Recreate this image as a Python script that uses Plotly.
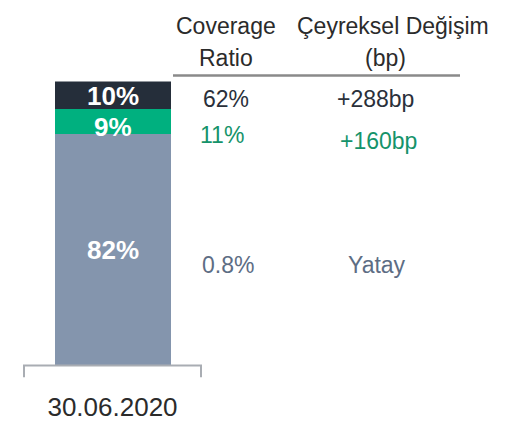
import plotly.graph_objects as go

categories = ["30.06.2020"]
segment_labels = ["82%", "9%", "10%"]
segment_values = [82, 9, 10]
segment_colors = ["#8495ad", "#00b07f", "#252e3a"]
coverage_ratio = ["0.8%", "11%", "62%"]
quarterly_change = ["Yatay", "+160bp", "+288bp"]
row_colors = ["#5d6d84", "#15936a", "#2a303a"]
header_lines_1 = ["Coverage", "Ratio"]
header_lines_2 = ["Çeyreksel Değişim", "(bp)"]

FONT = "Liberation Sans Narrow, Arial Narrow, Liberation Sans, Arial"
OFF = 8  # default page body margin
W, H = 510 - OFF, 422 - OFF

ypx = lambda p: 1 - (p - OFF) / H
xpx = lambda p: (p - OFF) / W

fig = go.Figure()
for v, c in zip(segment_values, segment_colors):
    fig.add_trace(go.Bar(x=categories, y=[v], marker=dict(color=c, line=dict(width=0)),
                         width=116 / 177, hoverinfo="skip", showlegend=False))

annotations = []
cum = 0
label_offsets = [0, -1.8, 0]
for v, lab, off in zip(segment_values, segment_labels, label_offsets):
    mid = cum + v / 2 + off
    cum += v
    annotations.append(dict(x=categories[0], y=mid, xref="x", yref="y", text="<b>" + lab + "</b>",
                            showarrow=False, font=dict(family=FONT, size=26, color="white"),
                            xanchor="center", yanchor="middle"))

hdr_font = dict(family=FONT, size=23, color="#2b2b2b")
for txt, x, y in [(header_lines_1[0], 226, 26), (header_lines_1[1], 226, 58),
                  (header_lines_2[0], 393, 26), (header_lines_2[1], 385, 58)]:
    annotations.append(dict(x=xpx(x), y=ypx(y), xref="paper", yref="paper", text=txt,
                            showarrow=False, font=hdr_font, xanchor="center", yanchor="middle"))

row_y1 = [267, 136, 100]
row_y2 = [267, 142, 100]
row_x1 = [228, 222, 226]
row_x2 = [377, 378, 375]
for cr, qc, col, y1, y2, x1, x2 in zip(coverage_ratio, quarterly_change, row_colors,
                                        row_y1, row_y2, row_x1, row_x2):
    annotations.append(dict(x=xpx(x1), y=ypx(y1), xref="paper", yref="paper", text=cr,
                            showarrow=False, font=dict(family=FONT, size=23, color=col),
                            xanchor="center", yanchor="middle"))
    annotations.append(dict(x=xpx(x2), y=ypx(y2), xref="paper", yref="paper", text=qc,
                            showarrow=False, font=dict(family=FONT, size=23, color=col),
                            xanchor="center", yanchor="middle"))

shapes = [
    dict(type="line", xref="paper", yref="paper", x0=xpx(173), x1=xpx(460),
         y0=ypx(76), y1=ypx(76), line=dict(color="#8a8a8a", width=2.5)),
    dict(type="path", xref="paper", yref="paper",
         path=f"M {xpx(24)},{ypx(380)} L {xpx(24)},{ypx(368)} L {xpx(201)},{ypx(368)} L {xpx(201)},{ypx(380)}",
         line=dict(color="#a9adb3", width=2)),
]

fig.update_layout(
    width=W, height=H, barmode="stack", bargap=0,
    margin=dict(l=0, r=0, t=0, b=0),
    paper_bgcolor="white", plot_bgcolor="white",
    xaxis=dict(domain=[xpx(24), xpx(201)], range=[-0.5, 0.5], showgrid=False, zeroline=False,
               showline=False, ticks="", tickfont=dict(family=FONT, size=26, color="#2b2b2b"),
               ticklabelstandoff=24),
    yaxis=dict(domain=[ypx(368), ypx(82)], range=[0, 101], visible=False),
    annotations=annotations, shapes=shapes,
)

fig.write_html("out.html")
